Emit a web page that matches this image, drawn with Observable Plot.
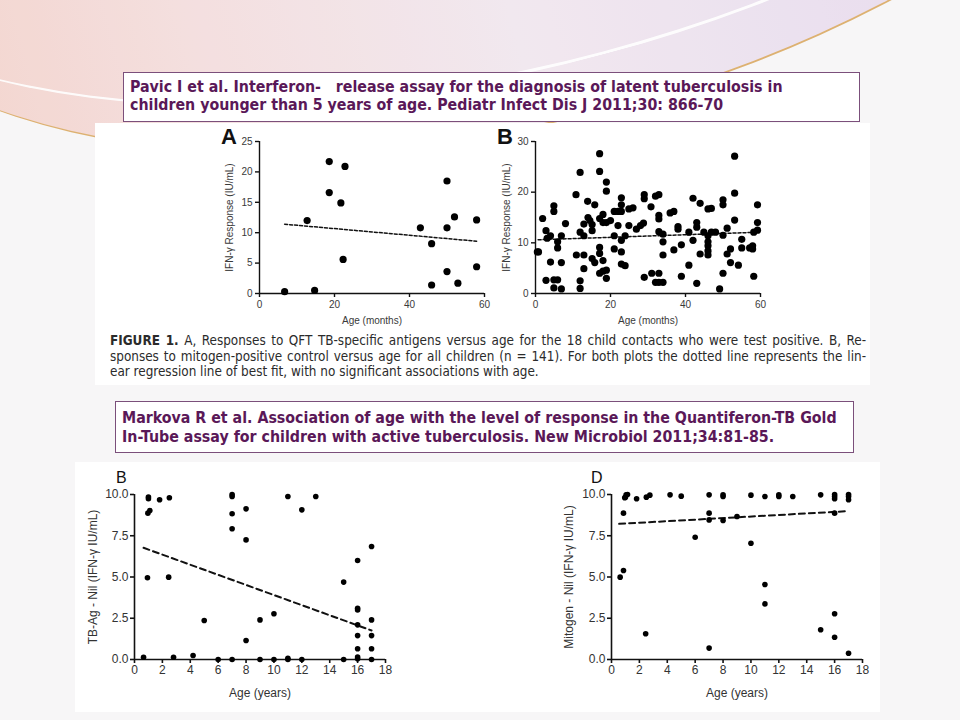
<!DOCTYPE html>
<html><head><meta charset="utf-8">
<script src="https://cdn.jsdelivr.net/npm/d3@7"></script>
<script src="https://cdn.jsdelivr.net/npm/@observablehq/plot@0.6"></script>
<style>
html,body{margin:0;padding:0;}
body{width:960px;height:720px;position:relative;overflow:hidden;background:#f7f6f7;font-family:"Liberation Sans",Arial,sans-serif;}
.abs{position:absolute;}
.swoosh{position:absolute;left:-240px;top:-680px;width:1500px;height:800px;border-radius:50%;transform:rotate(-15deg);
  background:linear-gradient(90deg,#f3cbbf 0%,#f4dcdc 25%,#f1e6ee 45%,#e9ddee 65%,#e5d3ea 80%,#f2e0e4 100%);
  border-bottom:2px solid #d9a65a;opacity:.85;}
.swoosh2{position:absolute;left:-300px;top:-735px;width:1600px;height:800px;border-radius:50%;transform:rotate(-15deg);
  border-bottom:3px solid #ffffff;opacity:.9;}
.fig{position:absolute;background:#fff;}
.ref{position:absolute;background:#fff;border:1px solid #7b4f7b;color:#5a1858;font-family:"DejaVu Sans Condensed","DejaVu Sans",sans-serif;font-weight:bold;white-space:pre;}
.cap{position:absolute;left:110px;width:756px;font-family:"DejaVu Sans Condensed","DejaVu Sans",sans-serif;font-size:13.4px;color:#2b2b2b;line-height:15.6px;}
.cap div{text-align:justify;text-align-last:justify;white-space:nowrap;}
.cap div.last{text-align-last:left;}
.letter{position:absolute;font-family:"Liberation Sans",Arial,sans-serif;color:#111;}
</style></head><body>
<div class="swoosh"></div>
<div class="swoosh2"></div>
<div class="fig" style="left:95px;top:123px;width:775px;height:262px;"></div>
<div class="fig" style="left:75px;top:462px;width:805px;height:250px;"></div>
<div class="ref" style="left:123px;top:72px;width:723px;height:38px;padding:5px 6px;font-size:15.8px;line-height:18px;">Pavic I et al. Interferon-   release assay for the diagnosis of latent tuberculosis in
children younger than 5 years of age. Pediatr Infect Dis J 2011;30: 866-70</div>
<div class="ref" style="left:115px;top:401px;width:725px;height:38px;padding:6px 6px;font-size:15.8px;line-height:19px;">Markova R et al. Association of age with the level of response in the Quantiferon-TB Gold
In-Tube assay for children with active tuberculosis. New Microbiol 2011;34:81-85.</div>
<div class="cap" style="top:333px;">
<div style="white-space:normal"><b style="font-weight:bold">FIGURE 1.</b> A, Responses to QFT TB-specific antigens versus age for the 18 child contacts who were test positive. B, Re-</div>
<div style="white-space:normal">sponses to mitogen-positive control versus age for all children (n = 141). For both plots the dotted line represents the lin-</div>
<div class="last">ear regression line of best fit, with no significant associations with age.</div>
</div>
<div class="letter" style="left:221px;top:124px;font-size:22px;font-weight:bold;">A</div>
<div class="letter" style="left:497px;top:124px;font-size:22px;font-weight:bold;">B</div>
<div class="letter" style="left:116px;top:470px;font-size:16px;line-height:16px;">B</div>
<div class="letter" style="left:591px;top:470px;font-size:16px;line-height:16px;">D</div>
<div id="pA" class="abs" style="left:220px;top:125px;"></div>
<div id="pB" class="abs" style="left:495px;top:125px;"></div>
<div id="pC" class="abs" style="left:70px;top:470px;"></div>
<div id="pD" class="abs" style="left:546px;top:470px;"></div>
<script>
// Panel A (Pavic): TB-specific antigen response vs age (months), 18 contacts
const aAge  = [6.7,14.7,12.7,18.6,22.8,18.6,21.7,22.3,42.9,45.9,45.9,50.0,50.0,50.0,52.0,52.9,57.9,57.9];
const aResp = [0.3,0.5,12.0,21.7,20.9,16.6,14.9,5.6,10.8,8.2,1.4,10.8,3.6,18.5,12.6,1.7,12.1,4.4];
const aTrendAge  = [6.7,57.9];
const aTrendResp = [11.4,8.6];

// Panel B (Pavic): mitogen response vs age (months)
const bAge = [0.5,0.8,1.9,2.8,2.8,3.1,4.0,4.0,4.9,4.9,4.9,4.9,5.9,5.9,5.9,6.9,6.9,6.9,8.0,10.8,10.9,11.9,11.9,11.9,11.9,12.9,12.9,12.9,12.9,13.9,14.0,14.5,15.1,15.1,15.1,15.8,15.8,17.1,17.1,17.1,17.1,17.1,17.1,18.0,18.0,18.0,18.0,18.9,18.9,18.9,18.9,18.9,20.0,21.0,21.0,21.0,22.0,22.0,22.9,22.9,22.9,22.9,22.9,22.9,23.9,23.9,24.9,24.9,26.0,26.9,28.0,28.8,29.0,29.0,29.0,30.8,31.0,32.0,32.0,32.9,32.9,32.9,32.9,32.9,32.9,34.0,34.0,34.0,34.0,35.9,36.9,36.9,38.0,38.0,38.9,38.9,40.9,40.9,42.0,42.0,43.0,43.0,43.0,43.9,43.9,44.9,46.0,46.0,46.0,46.0,46.0,46.0,46.9,46.9,48.0,49.1,50.0,50.0,50.0,50.0,51.1,51.1,52.0,52.0,53.1,53.1,53.1,54.1,55.0,55.0,57.1,57.9,57.9,58.2,58.2,59.2,59.2,59.2];
const bResp = [8.2,8.2,14.8,12.4,2.6,10.9,11.4,6.2,17.3,16.2,2.7,1.1,2.7,10.2,9.0,0.9,11.4,6.1,13.8,19.5,7.6,23.9,12.1,2.5,1.0,11.4,7.6,4.9,13.7,18.2,15.0,14.4,13.6,12.4,6.9,17.5,6.1,27.6,24.1,14.8,9.1,7.9,4.0,15.6,6.5,4.4,14.0,22.0,20.2,14.0,4.6,3.0,14.4,16.2,11.4,8.8,16.2,13.4,18.9,17.5,16.2,10.5,8.2,5.8,11.4,5.5,13.4,16.7,16.9,12.7,13.4,13.9,19.5,18.7,3.2,17.1,4.0,19.2,2.2,19.5,15.4,14.7,12.2,4.0,2.2,11.7,10.2,7.6,2.2,15.9,16.2,8.6,13.2,12.7,9.6,3.4,12.1,5.6,18.8,10.5,14.0,13.1,2.0,17.8,7.8,12.1,16.7,11.4,10.2,9.4,8.4,7.6,16.8,12.1,12.1,0.9,18.5,17.5,11.5,4.0,7.8,12.9,8.8,6.1,27.1,19.8,14.5,5.6,10.7,9.0,9.0,9.4,8.8,12.1,3.4,17.5,14.0,12.5];
const bTrendAge  = [0.7,59.6];
const bTrendResp = [10.6,12.1];

// Panel B (Markova): TB-Ag - Nil vs age (years)
const cAge = [0.65,0.93,1.0,1.0,0.96,1.1,1.8,2.5,2.45,2.8,4.2,5.0,6.0,7,7,7,7,7,8,8,8,9,9,10,10,11,11,11,12,12,13,15,15,16,16,16,16,16,16,16,16,17,17,17,17,17];
const cVal = [0.14,4.95,9.85,9.75,8.87,9.03,9.68,9.8,4.99,0.14,0.24,2.36,0,10.0,9.88,8.83,7.92,0,9.13,7.25,1.15,2.4,0,2.77,0,9.88,0.08,0,9.07,0,9.88,4.69,0,6.0,3.1,3.0,2.1,1.45,0.65,0.15,0.05,6.85,2.4,1.45,0.65,0];
const cTrendAge = [0.65,17];
const cTrendVal = [6.77,1.76];

// Panel D (Markova): Mitogen - Nil vs age (years)
const dAge = [0.62,0.86,0.86,1.0,1.05,1.15,0.95,1.8,2.5,2.75,2.45,4.2,5.0,6.0,7,7,7,7,8,8,8,9,10,10,11,11,11,12,12,13,15,15,16,16,16,16,16,16,17,17,17,17];
const dVal = [4.99,5.39,8.87,9.84,9.98,10.0,9.8,9.74,9.84,9.96,1.56,9.98,9.9,7.41,9.98,8.87,8.46,0.69,9.98,9.88,8.42,8.67,9.96,7.05,9.88,4.55,3.37,9.98,9.88,9.88,9.98,1.8,10.0,9.88,9.74,8.87,2.77,1.35,10.0,9.88,9.68,0.38];
const dTrendAge = [0.55,16.9];
const dTrendVal = [8.22,8.99];

const monthTicks = [0,20,40,60];
const yearTicks = [0,2,4,6,8,10,12,14,16,18];
const valueTicks = [0,2.5,5,7.5,10];

function scatter(o){
  const idx = o.x.map((_,i)=>i);
  const tr = o.tx.map((_,i)=>i);
  return Plot.plot({
    width:o.w, height:o.h, marginLeft:o.ml, marginRight:o.mr, marginTop:o.mt, marginBottom:o.mb,
    style:{fontFamily:"'Liberation Sans', Arial, sans-serif", fontSize:o.fs+"px", color:o.color, background:"transparent", overflow:"visible"},
    x:{domain:o.xd},
    y:{domain:o.yd},
    marks:[
      Plot.ruleY([o.yd[0]],{stroke:"#111",strokeWidth:o.sw}),
      Plot.ruleX([o.xd[0]],{stroke:"#111",strokeWidth:o.sw}),
      Plot.axisX({ticks:o.xt, tickSize:o.ts, tickPadding:o.tp, stroke:"#111", strokeWidth:o.sw, label:o.xl, labelAnchor:"center", labelArrow:"none", labelOffset:o.xlo}),
      Plot.axisY({ticks:o.yt, tickSize:o.ts, tickPadding:o.tp, stroke:"#111", strokeWidth:o.sw, label:o.yl, labelAnchor:"center", labelArrow:"none", labelOffset:o.ylo, tickFormat:o.yf}),
      Plot.line(tr,{x:i=>o.tx[i], y:i=>o.ty[i], stroke:"#111", strokeWidth:o.lw, strokeDasharray:o.dash}),
      Plot.dot(idx,{x:i=>o.x[i], y:i=>o.y[i], r:o.r, fill:"#000"})
    ]
  });
}

document.getElementById("pA").append(scatter({
  x:aAge, y:aResp, tx:aTrendAge, ty:aTrendResp,
  w:280, h:210, ml:39, mr:16, mt:16, mb:42, fs:10, color:"#3a3a3a",
  xd:[0,60], yd:[0,25], xt:monthTicks, yt:[0,5,10,15,20,25],
  xl:"Age (months)", yl:"IFN-\u03b3 Response (IU/mL)", xlo:30, ylo:34,
  ts:4, tp:3, sw:1.4, lw:1.5, dash:"3,2", r:3.6
}));
document.getElementById("pB").append(scatter({
  x:bAge, y:bResp, tx:bTrendAge, ty:bTrendResp,
  w:280, h:210, ml:40, mr:15, mt:16, mb:42, fs:10, color:"#3a3a3a",
  xd:[0,60], yd:[0,30], xt:monthTicks, yt:[0,10,20,30],
  xl:"Age (months)", yl:"IFN-\u03b3 Response (IU/mL)", xlo:30, ylo:33,
  ts:4, tp:3, sw:1.4, lw:1.5, dash:"3,2", r:3.6
}));
document.getElementById("pC").append(scatter({
  x:cAge, y:cVal, tx:cTrendAge, ty:cTrendVal,
  w:330, h:240, ml:64, mr:15, mt:24, mb:51, fs:12, color:"#333",
  xd:[0,18], yd:[0,10], xt:yearTicks, yt:valueTicks, yf:d3.format(".1f"),
  xl:"Age (years)", yl:"TB-Ag - Nil (IFN-\u03b3 IU/mL)", xlo:37, ylo:46,
  ts:4, tp:2, sw:1.6, lw:2, dash:"6,4", r:2.8
}));
document.getElementById("pD").append(scatter({
  x:dAge, y:dVal, tx:dTrendAge, ty:dTrendVal,
  w:331, h:240, ml:65, mr:15, mt:24, mb:51, fs:12, color:"#333",
  xd:[0,18], yd:[0,10], xt:yearTicks, yt:valueTicks, yf:d3.format(".1f"),
  xl:"Age (years)", yl:"Mitogen - Nil (IFN-\u03b3 IU/mL)", xlo:37, ylo:47,
  ts:4, tp:2, sw:1.6, lw:2, dash:"6,4", r:2.8
}));
</script>
</body></html>
